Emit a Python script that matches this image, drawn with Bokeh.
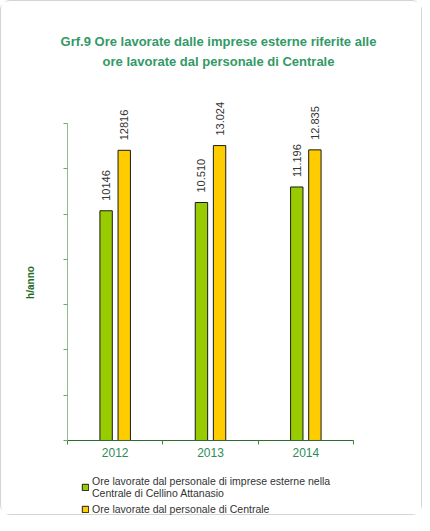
import numpy as np
from bokeh.plotting import figure
from bokeh.models import (ColumnDataSource, Range1d, FixedTicker, LabelSet, Label,
                          Legend, LegendItem)
from bokeh.core.properties import value
from bokeh.embed import file_html
from bokeh.resources import INLINE

years = ["2012", "2013", "2014"]
esterne = [10146, 10510, 11196]
centrale = [12816, 13024, 12835]
esterne_labels = ["10146", "10.510", "11.196"]
centrale_labels = ["12816", "13.024", "12.835"]
y_ticks = list(range(0, 14001, 2000))

title_lines = ["Grf.9 Ore lavorate dalle imprese esterne riferite alle",
               "ore lavorate dal personale di Centrale"]
legend_labels = ["Ore lavorate dal personale di imprese esterne nella\nCentrale di Cellino Attanasio",
                 "Ore lavorate dal personale di Centrale"]

pos = np.arange(len(years)) + 0.5
off = 0.095
bw = 0.13

src = ColumnDataSource(dict(
    x=pos, x1=pos - off, x2=pos + off, e=esterne, c=centrale, zero=[0] * len(years),
    el=esterne_labels, cl=centrale_labels, yl=years))

FONT = "Liberation Sans"

p = figure(width=422, height=515, output_backend="svg", toolbar_location=None,
           x_range=Range1d(-0.5665, 3.6923), y_range=Range1d(-3357, 19211),
           min_border_left=12, min_border_right=4, min_border_top=4, min_border_bottom=0)
p.outline_line_color = None
p.xgrid.grid_line_color = None
p.ygrid.grid_line_color = None
p.background_fill_color = "white"
p.border_fill_color = "white"
p.styles = {"border": "1px solid #d4d4d4", "border-radius": "10px"}

r1 = p.vbar(x="x1", top="e", width=bw, source=src, fill_color="#99cc00",
            line_color="#1a1a1a", line_width=1)
r2 = p.vbar(x="x2", top="c", width=bw, source=src, fill_color="#ffcc00",
            line_color="#1a1a1a", line_width=1)

for xcol, ycol, tcol in [("x1", "e", "el"), ("x2", "c", "cl")]:
    p.add_layout(LabelSet(x=xcol, y=ycol, text=tcol, source=src, angle=np.pi / 2,
                          y_offset=10, text_align="left", text_baseline="middle",
                          text_font=value(FONT), text_font_size="11px",
                          text_color="#333333"))

# year labels under the axis
p.add_layout(LabelSet(x="x", y="zero", text="yl", source=src, y_offset=-8,
                      text_align="center", text_baseline="top",
                      text_font=value(FONT), text_font_size="12px", text_color="#2e8b57"))

# x axis (drawn at y=0)
p.xaxis.fixed_location = 0
p.xaxis.bounds = (0, len(years))
p.xaxis.ticker = FixedTicker(ticks=list(pos), minor_ticks=list(range(len(years) + 1)))
p.xaxis.major_label_text_font_size = "0px"
p.xaxis.major_label_text_color = None
p.xaxis.major_label_standoff = 0
p.xaxis.major_tick_line_color = None
p.xaxis.major_tick_out = 0
p.xaxis.major_tick_in = 0
p.xaxis.minor_tick_line_color = "#3a8a3a"
p.xaxis.minor_tick_out = 4
p.xaxis.minor_tick_in = 0
p.xaxis.axis_line_color = "#2d6e2d"

# y axis (drawn at x=0)
p.yaxis.fixed_location = 0
p.yaxis.bounds = (0, 14000)
p.yaxis.ticker = FixedTicker(ticks=y_ticks, minor_ticks=[])
p.yaxis.major_label_text_font_size = "0px"
p.yaxis.major_label_text_color = None
p.yaxis.major_label_standoff = 0
p.yaxis.axis_line_color = "#8fbc8f"
p.yaxis.major_tick_line_color = "#6aaa6a"
p.yaxis.major_tick_out = 4
p.yaxis.major_tick_in = 0
p.yaxis.minor_tick_line_color = None

# title
for i, t in enumerate(title_lines):
    p.add_layout(Label(x=205, y=475 - 20 * i, x_units="screen", y_units="screen", text=t,
                       text_align="center", text_baseline="middle",
                       text_font=FONT, text_font_style="bold",
                       text_font_size="13px", text_color="#339966"))

# y axis label
p.add_layout(Label(x=17, y=234, x_units="screen", y_units="screen", text="h/anno",
                   angle=np.pi / 2, text_align="center", text_baseline="middle",
                   text_font=FONT, text_font_style="bold", text_font_size="10px",
                   text_color="#1e6b1e"))

legend = Legend(items=[LegendItem(label=legend_labels[0], renderers=[r1]),
                       LegendItem(label=legend_labels[1], renderers=[r2])],
                location=(68, 1), glyph_width=8, glyph_height=8, padding=0, margin=0,
                spacing=4, label_standoff=3, label_text_font=FONT,
                label_text_font_size="10.5px", label_text_line_height=1.45,
                label_text_color="#333333",
                background_fill_alpha=0, border_line_color=None)
p.add_layout(legend, "center")

open("out.html", "w").write(file_html(p, INLINE))
